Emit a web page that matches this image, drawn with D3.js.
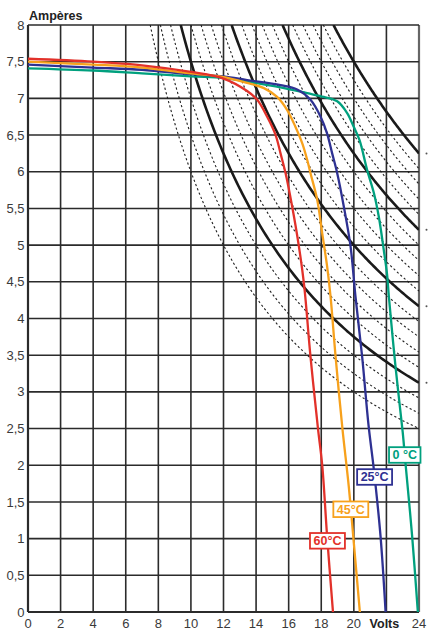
<!DOCTYPE html>
<html><head><meta charset="utf-8">
<script src="https://cdn.jsdelivr.net/npm/d3@7"></script>
<style>html,body{margin:0;padding:0;background:#fff;}svg{display:block;font-family:"Liberation Sans",Arial,sans-serif;}</style>
</head><body>
<svg id="chart" width="428" height="630"></svg>
<script>
// ---- data ----
const voltTicks = [0,2,4,6,8,10,12,14,16,18,20,22,24];
const voltTickLabels = ["0","2","4","6","8","10","12","14","16","18","20","Volts","24"];
const ampTicks = [0,0.5,1,1.5,2,2.5,3,3.5,4,4.5,5,5.5,6,6.5,7,7.5,8];
const ampTickLabels = ["0","0,5","1","1,5","2","2,5","3","3,5","4","4,5","5","5,5","6","6,5","7","7,5","8"];

const solidPowers = [75,100,125,150];
const dashedPowers = [60,65,70,80,85,90,95,105,110,115,120,130,135,140,145];

const temps = ["0 °C","25°C","45°C","60°C"];
const tempColors = ["#00a07e","#2e3192","#f7a11c","#e2312a"];

const volts0 = [0,4,7,10,12,13.45,15.5,17.14,18.16,18.98,19.59,20.0,20.35,20.82,21.23,21.53,21.84,22.04,22.15,22.56,23.0,23.17,23.58,23.93];
const amps0  = [7.41,7.38,7.34,7.30,7.28,7.23,7.15,7.07,7.02,6.96,6.80,6.61,6.43,6.02,5.71,5.39,4.93,4.60,4.30,3.34,2.45,2.03,1.03,0];
const volts25 = [0,4,7,10,12,13.45,15.5,16.52,17.34,17.96,18.36,18.67,18.98,19.39,19.8,20.1,20.51,20.9,21.23,21.64,21.95];
const amps25  = [7.46,7.42,7.39,7.33,7.30,7.25,7.18,7.12,6.98,6.75,6.52,6.25,5.98,5.52,4.98,4.30,3.48,2.55,1.94,1.03,0];
const volts45 = [0,4,7,10,12,13.45,14.48,15.29,15.91,16.42,16.83,17.14,17.34,17.75,18.06,18.36,18.57,18.88,19.3,19.69,20.0,20.37];
const amps45  = [7.50,7.46,7.42,7.34,7.29,7.21,7.14,7.02,6.84,6.61,6.39,6.16,5.98,5.62,5.16,4.71,4.30,3.48,2.50,1.71,0.94,0];
const volts60 = [0,4,7,10,12,13.45,14.07,14.68,15.2,15.5,15.81,16.22,16.63,16.95,17.34,17.8,18.06,18.36,18.72];
const amps60  = [7.54,7.50,7.45,7.36,7.27,7.10,6.98,6.75,6.50,6.25,5.98,5.52,4.98,4.45,3.48,2.50,2.00,1.03,0];

// label anchor currents (where each temperature tag sits on its curve)
const labelAmps = [2.14,1.84,1.40,0.97];

// ---- drawing ----
const svg = d3.select("#chart");
const x = d3.scaleLinear().domain([0,24]).range([28,419]);
const y = d3.scaleLinear().domain([0,8]).range([612,25]);

svg.append("defs").append("clipPath").attr("id","plotclip")
  .append("rect").attr("x",x(0)).attr("y",y(8)).attr("width",x(24)-x(0)).attr("height",y(0)-y(8));

// grid
const grid = svg.append("g");
grid.selectAll("line.v").data(voltTicks).join("line")
  .attr("x1",d=>x(d)).attr("x2",d=>x(d)).attr("y1",y(0)).attr("y2",y(8))
  .attr("stroke",d=>d===24?"#666":"#2b2b2b").attr("stroke-width",d=>(d===0||d===24)?2.2:1.6);
grid.selectAll("line.h").data(ampTicks).join("line")
  .attr("x1",x(0)).attr("x2",x(24)).attr("y1",d=>y(d)).attr("y2",d=>y(d))
  .attr("stroke","#2b2b2b").attr("stroke-width",d=>d===0?2.2:1.6);

// iso-power hyperbolas
function hyper(P){
  const pts=[]; const v0=P/8;
  for(let i=0;i<=120;i++){const v=v0+(24-v0)*i/120; pts.push([v,P/v]);}
  return pts;
}
const hl = d3.line().x(d=>x(d[0])).y(d=>y(d[1]));
const hyp = svg.append("g").attr("clip-path","url(#plotclip)");
hyp.selectAll("path.d").data(dashedPowers).join("path")
  .attr("d",d=>hl(hyper(d))).attr("fill","none").attr("stroke","#1e1e1e")
  .attr("stroke-width",1.1).attr("stroke-dasharray","2.2,2.4");
hyp.selectAll("path.s").data(solidPowers).join("path")
  .attr("d",d=>hl(hyper(d))).attr("fill","none").attr("stroke","#1a1a1a")
  .attr("stroke-width",2.6);

// small marks at right edge (cut-off power labels)
svg.append("g").selectAll("circle").data(solidPowers).join("circle")
  .attr("cx",426.5).attr("cy",d=>y(d/24)).attr("r",1).attr("fill","#555");

// I-V curves
const curves = [[volts0,amps0],[volts25,amps25],[volts45,amps45],[volts60,amps60]];
const cl = d3.line().x(d=>x(d[0])).y(d=>y(d[1])).curve(d3.curveCatmullRom.alpha(0.5));
const cg = svg.append("g").attr("clip-path","url(#plotclip)");
curves.forEach((c,i)=>{
  const pts = c[0].map((v,j)=>[v,c[1][j]]);
  cg.append("path").attr("d",cl(pts)).attr("fill","none")
    .attr("stroke",tempColors[i]).attr("stroke-width",2.3);
});

// temperature tags
curves.forEach((c,i)=>{
  const a = labelAmps[i];
  let vv = c[0][c[0].length-1];
  for(let j=0;j<c[1].length-1;j++){
    if(c[1][j]>=a && c[1][j+1]<=a){
      const t=(c[1][j]-a)/(c[1][j]-c[1][j+1]); vv=c[0][j]+t*(c[0][j+1]-c[0][j]); break;
    }
  }
  const g = svg.append("g");
  const txt = g.append("text").attr("x",x(vv)).attr("y",y(a)+4.3).attr("text-anchor","middle")
    .attr("font-size",12.5).attr("font-weight","bold").attr("fill",tempColors[i]).text(temps[i]);
  const w = txt.node().getComputedTextLength()+7;
  g.insert("rect","text").attr("x",x(vv)-w/2).attr("y",y(a)-7.8).attr("width",w).attr("height",15.6)
    .attr("fill","#fff").attr("stroke",tempColors[i]).attr("stroke-width",1.8);
});

// tick labels
svg.append("g").selectAll("text").data(voltTicks).join("text")
  .attr("x",(d,i)=>voltTickLabels[i]==="Volts"?x(d)-2:x(d)).attr("y",628).attr("text-anchor","middle")
  .attr("font-size",(d,i)=>voltTickLabels[i]==="Volts"?12.5:13)
  .attr("font-weight",(d,i)=>voltTickLabels[i]==="Volts"?"bold":"normal")
  .attr("fill",(d,i)=>voltTickLabels[i]==="Volts"?"#222":"#3a3a3a")
  .text((d,i)=>voltTickLabels[i]);
svg.append("g").selectAll("text").data(ampTicks).join("text")
  .attr("x",24.5).attr("y",d=>y(d)+4.6).attr("text-anchor","end")
  .attr("font-size",13).attr("fill","#3a3a3a").text((d,i)=>ampTickLabels[i]);

svg.append("text").attr("x",29).attr("y",19.5).attr("font-size",12.5).attr("font-weight","bold")
  .attr("fill","#222").text("Ampères");
</script>
</body></html>
